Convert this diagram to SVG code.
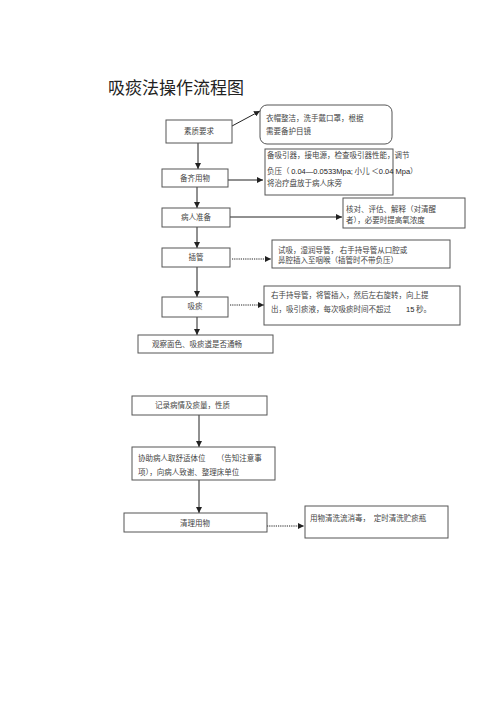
<svg xmlns="http://www.w3.org/2000/svg" width="500" height="708" viewBox="0 0 500 708">
<defs>
<style>
.box{fill:#fff;stroke:#555;stroke-width:1}
.t{font-family:"Noto Sans CJK SC","Liberation Serif",serif;font-size:7.5px;fill:#444}
.n{font-family:"Noto Sans CJK SC","Liberation Serif",serif;font-size:7.5px;fill:#444;text-anchor:middle}
.en{font-family:"Liberation Sans",sans-serif;font-size:7.5px;fill:#222}
.ln{stroke:#222;stroke-width:1;fill:none}
.dot{stroke:#222;stroke-width:1;fill:none;stroke-dasharray:1.2 1}
</style>
<marker id="ah" viewBox="0 0 6 6" refX="6" refY="3" markerWidth="6" markerHeight="6" orient="auto" markerUnits="userSpaceOnUse">
<path d="M0,0 L6,3 L0,6 z" fill="#222"/>
</marker>
</defs>
<rect width="500" height="708" fill="#fff"/>
<text x="108" y="94" font-family="Noto Sans CJK SC,Liberation Sans,sans-serif" font-size="17" fill="#222">吸痰法操作流程图</text>

<g id="connectors">
<line class="ln" x1="232" y1="126" x2="260" y2="111" marker-end="url(#ah)"/>
<line class="ln" x1="198" y1="143" x2="198" y2="169" marker-end="url(#ah)"/>
<line class="ln" x1="228" y1="180" x2="263" y2="180" marker-end="url(#ah)"/>
<line class="ln" x1="197" y1="187" x2="197" y2="208" marker-end="url(#ah)"/>
<line class="ln" x1="230" y1="217" x2="342" y2="217" marker-end="url(#ah)"/>
<line class="ln" x1="197" y1="227" x2="197" y2="248" marker-end="url(#ah)"/>
<line class="dot" x1="232" y1="259" x2="271" y2="259" marker-end="url(#ah)"/>
<line class="ln" x1="197" y1="267" x2="197" y2="297" marker-end="url(#ah)"/>
<line class="dot" x1="230" y1="305" x2="264" y2="305" marker-end="url(#ah)"/>
<line class="ln" x1="197" y1="317" x2="197" y2="335" marker-end="url(#ah)"/>
<line class="ln" x1="199" y1="415" x2="199" y2="447" marker-end="url(#ah)"/>
<line class="ln" x1="199" y1="480" x2="199" y2="513" marker-end="url(#ah)"/>
<line class="dot" x1="267" y1="526" x2="304" y2="526" marker-end="url(#ah)"/>
</g>

<g id="n1"><rect class="box" x="166" y="120" width="66" height="23"/><text class="n" x="199" y="134">素质要求</text></g>
<g id="n1d"><rect class="box" x="260" y="105" width="132" height="39" rx="7"/><text class="t" x="266" y="121">衣帽整洁，洗手戴口罩，根据</text><text class="t" x="266" y="134">需要备护目镜</text></g>

<g id="n2"><rect class="box" x="162" y="169" width="66" height="18"/><text class="n" x="195" y="181">备齐用物</text></g>
<g id="n2d"><rect class="box" x="265" y="149" width="128" height="46"/>
<text class="t" x="267" y="158">备吸引器，接电源，检查吸引器性能，调节</text>
<text class="t" x="267" y="174">负压（ <tspan class="en">0.04—0.0533Mpa;</tspan> 小儿 ＜<tspan class="en">0.04 Mpa</tspan>）</text>
<text class="t" x="267" y="186">将治疗盘放于病人床旁</text></g>

<g id="n3"><rect class="box" x="162" y="208" width="68" height="19"/><text class="n" x="196" y="220">病人准备</text></g>
<g id="n3d"><rect class="box" x="343" y="198" width="122" height="30"/><text class="t" x="346" y="212">核对、评估、解释（对清醒</text><text class="t" x="346" y="223">者），必要时提高氧浓度</text></g>

<g id="n4"><rect class="box" x="162" y="248" width="68" height="19"/><text class="n" x="196" y="260">插管</text></g>
<g id="n4d"><rect class="box" x="272" y="240" width="178" height="28"/><text class="t" x="278" y="253">试吸，湿润导管， 右手持导管从口腔或</text><text class="t" x="278" y="263">鼻腔插入至咽喉（插管时不带负压）</text></g>

<g id="n5"><rect class="box" x="162" y="297" width="66" height="20"/><text class="n" x="195" y="309">吸痰</text></g>
<g id="n5d"><rect class="box" x="264" y="286" width="196" height="39"/><text class="t" x="271" y="298">右手持导管，将管插入，然后左右旋转，向上提</text><text class="t" x="271" y="312">出，吸引痰液，每次吸痰时间不超过　　<tspan class="en">15</tspan> 秒。</text></g>

<g id="n6"><rect class="box" x="138" y="335" width="135" height="18"/><text class="t" x="152" y="347">观察面色、吸痰道是否通畅</text></g>

<g id="n7"><rect class="box" x="132" y="396" width="135" height="19"/><text class="t" x="155" y="408">记录病情及痰量，性质</text></g>

<g id="n8"><rect class="box" x="132" y="447" width="143" height="33"/><text class="t" x="138" y="461">协助病人取舒适体位　　（告知注意事</text><text class="t" x="138" y="475">项），向病人致谢、整理床单位</text></g>

<g id="n9"><rect class="box" x="124" y="513" width="143" height="19"/><text class="n" x="195" y="526">清理用物</text></g>
<g id="n9d"><rect class="box" x="305" y="506" width="143" height="32"/><text class="t" x="310" y="521">用物清洗流消毒，　定时清洗贮痰瓶</text></g>
</svg>
